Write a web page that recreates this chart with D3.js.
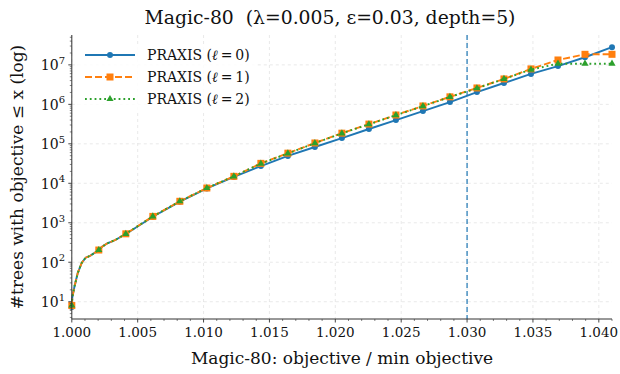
<!DOCTYPE html>
<html>
<head>
<meta charset="utf-8">
<script src="https://cdn.jsdelivr.net/npm/d3@7"></script>
<style>
  body { margin: 0; background: #fff; }
  svg { font-family: "DejaVu Serif", serif; }
</style>
</head>
<body>
<div id="chart"></div>
<script>
// objective ratio (x) and cumulative tree counts for each PRAXIS level
const ratio = [1.0000, 1.00004, 1.0002, 1.00045, 1.00075, 1.00105, 1.0014, 1.00205, 1.0023, 1.0027, 1.0033, 1.0041,
  1.00615, 1.0082, 1.01025, 1.0123, 1.01435, 1.0164, 1.01845, 1.0205, 1.02255, 1.0246, 1.02665,
  1.0287, 1.03075, 1.0328, 1.03485, 1.0369, 1.03895, 1.041];
const praxis0 = [7.3, 13, 24, 53, 96, 130, 146, 204, 247, 302, 366, 519,
  1420, 3420, 7400, 14500, 27400, 49400, 83000, 140000, 237000, 400000, 676000,
  1.14e6, 2.05e6, 3.47e6, 5.9e6, 9.3e6, 1.56e7, 2.8e7];
const praxis1 = [8, 13, 24, 53, 96, 130, 146, 204, 247, 302, 366, 525,
  1450, 3500, 7600, 15000, 32000, 58000, 105000, 186000, 316000, 537000, 910000,
  1.55e6, 2.6e6, 4.4e6, 7.9e6, 1.33e7, 1.85e7, 1.85e7];
const praxis2 = [8, 13, 24, 53, 96, 130, 146, 204, 247, 302, 366, 525,
  1450, 3500, 7600, 15000, 31500, 57000, 104000, 184000, 313000, 530000, 900000,
  1.54e6, 2.55e6, 4.4e6, 7.6e6, 1.07e7, 1.07e7, 1.07e7];
// which points carry a marker (every 1/20 of the range)
const markerIdx = [0, 7, 11, 12, 13, 14, 15, 16, 17, 18, 19, 20, 21, 22, 23, 24, 25, 26, 27, 28, 29];
const seriesNames = ["PRAXIS (", "PRAXIS (", "PRAXIS ("];
const levels = ["0", "1", "2"];
const xTicks = [1.000, 1.005, 1.010, 1.015, 1.020, 1.025, 1.030, 1.035, 1.040];
const yTickExp = [1, 2, 3, 4, 5, 6, 7];
const refLine = 1.030;

const W = 620, H = 374;
const svg = d3.select("#chart").append("svg").attr("width", W).attr("height", H);

const x = d3.scaleLinear().domain([1.0, 1.041]).range([71.8, 612]);
const y = d3.scaleLog().domain([3.65, 5.71e7]).range([319, 35]);

// grid
const grid = svg.append("g");
xTicks.forEach(t => {
  grid.append("line").attr("x1", x(t)).attr("x2", x(t)).attr("y1", 35).attr("y2", 319)
    .attr("stroke", "#b0b0b0").attr("stroke-opacity", 0.35).attr("stroke-width", 0.8)
    .attr("stroke-dasharray", "3,3");
});
yTickExp.forEach(e => {
  grid.append("line").attr("x1", 71.8).attr("x2", 612).attr("y1", y(Math.pow(10, e))).attr("y2", y(Math.pow(10, e)))
    .attr("stroke", "#b0b0b0").attr("stroke-opacity", 0.35).attr("stroke-width", 0.8)
    .attr("stroke-dasharray", "3,3");
});

// reference line at 1.030
svg.append("line").attr("x1", x(refLine)).attr("x2", x(refLine)).attr("y1", 35).attr("y2", 319)
  .attr("stroke", "#1f77b4").attr("stroke-width", 1.2).attr("stroke-dasharray", "5,3");

const series = [
  { vals: praxis0, color: "#1f77b4", dash: null, marker: "circle" },
  { vals: praxis1, color: "#ff7f0e", dash: "7,3", marker: "square" },
  { vals: praxis2, color: "#2ca02c", dash: "1.8,3", marker: "triangle" }
];

const line = d3.line().x(d => x(d[0])).y(d => y(d[1]));
const plot = svg.append("g");

function drawMarker(g, kind, cx, cy, color) {
  if (kind === "circle") {
    g.append("circle").attr("cx", cx).attr("cy", cy).attr("r", 3).attr("fill", color);
  } else if (kind === "square") {
    g.append("rect").attr("x", cx - 3.5).attr("y", cy - 3.5).attr("width", 7).attr("height", 7).attr("fill", color);
  } else {
    g.append("path").attr("d", d3.symbol().type(d3.symbolTriangle).size(22)()).attr("transform", `translate(${cx},${cy})`)
      .attr("fill", color);
  }
}

series.forEach(s => {
  const pts = ratio.map((r, i) => [r, s.vals[i]]);
  plot.append("path").attr("d", line(pts)).attr("fill", "none").attr("stroke", s.color)
    .attr("stroke-width", 1.9).attr("stroke-dasharray", s.dash);
  markerIdx.forEach(i => drawMarker(plot, s.marker, x(pts[i][0]), y(pts[i][1]), s.color));
});

// axes spines
svg.append("line").attr("x1", 71.8).attr("x2", 71.8).attr("y1", 35).attr("y2", 319).attr("stroke", "#333").attr("stroke-width", 1);
svg.append("line").attr("x1", 71.8).attr("x2", 612).attr("y1", 319).attr("y2", 319).attr("stroke", "#333").attr("stroke-width", 1);

// x ticks
const ax = svg.append("g");
d3.range(0, 42).forEach(k => {
  const v = 1 + k * 0.001;
  const major = k % 5 === 0;
  ax.append("line").attr("x1", x(v)).attr("x2", x(v)).attr("y1", 319).attr("y2", 319 + (major ? 3.5 : 2))
    .attr("stroke", "#333").attr("stroke-width", major ? 0.9 : 0.6);
});
xTicks.forEach(t => {
  ax.append("text").attr("x", x(t)).attr("y", 337).attr("text-anchor", "middle")
    .attr("font-size", 13.5).attr("fill", "#111").text(t.toFixed(3));
});

// y ticks (log)
for (let e = 0; e <= 7; e++) {
  for (let m = 1; m <= 9; m++) {
    const v = m * Math.pow(10, e);
    if (v < 3.65 || v > 5.71e7) continue;
    const major = m === 1;
    ax.append("line").attr("x1", 71.8).attr("x2", 71.8 - (major ? 3.5 : 2)).attr("y1", y(v)).attr("y2", y(v))
      .attr("stroke", "#333").attr("stroke-width", major ? 0.9 : 0.6);
  }
}
yTickExp.forEach(e => {
  const t = ax.append("text").attr("x", 65).attr("y", y(Math.pow(10, e)) + 5.5).attr("text-anchor", "end")
    .attr("font-size", 14).attr("fill", "#111");
  t.append("tspan").text("10");
  t.append("tspan").attr("font-size", 10).attr("dy", -6.5).text(e);
});

// labels
svg.append("text").attr("x", 342).attr("y", 364).attr("text-anchor", "middle").attr("font-size", 17)
  .attr("fill", "#111").text("Magic-80: objective / min objective");
svg.append("text").attr("transform", "translate(23,177) rotate(-90)").attr("text-anchor", "middle")
  .attr("font-size", 17).attr("fill", "#111").text("#trees with objective \u2264 x (log)");
svg.append("text").attr("x", 330).attr("y", 24).attr("text-anchor", "middle").attr("font-size", 18.8)
  .style("white-space", "pre").attr("fill", "#111").text("Magic-80  (\u03bb=0.005, \u03b5=0.03, depth=5)");

// legend
const lg = svg.append("g");
lg.append("rect").attr("x", 78).attr("y", 44).attr("width", 178).attr("height", 66).attr("fill", "#fff").attr("opacity", 0.85);
series.forEach((s, i) => {
  const cy = 55 + i * 22;
  lg.append("line").attr("x1", 85).attr("x2", 135).attr("y1", cy).attr("y2", cy).attr("stroke", s.color)
    .attr("stroke-width", 1.9).attr("stroke-dasharray", s.dash);
  drawMarker(lg, s.marker, 110, cy, s.color);
  const t = lg.append("text").attr("x", 147).attr("y", cy + 5).attr("font-size", 14).attr("fill", "#111");
  t.append("tspan").text(seriesNames[i]);
  t.append("tspan").attr("font-style", "italic").text("\u2113");
  t.append("tspan").text("\u2009=\u2009" + levels[i] + ")");
});
</script>
</body>
</html>
